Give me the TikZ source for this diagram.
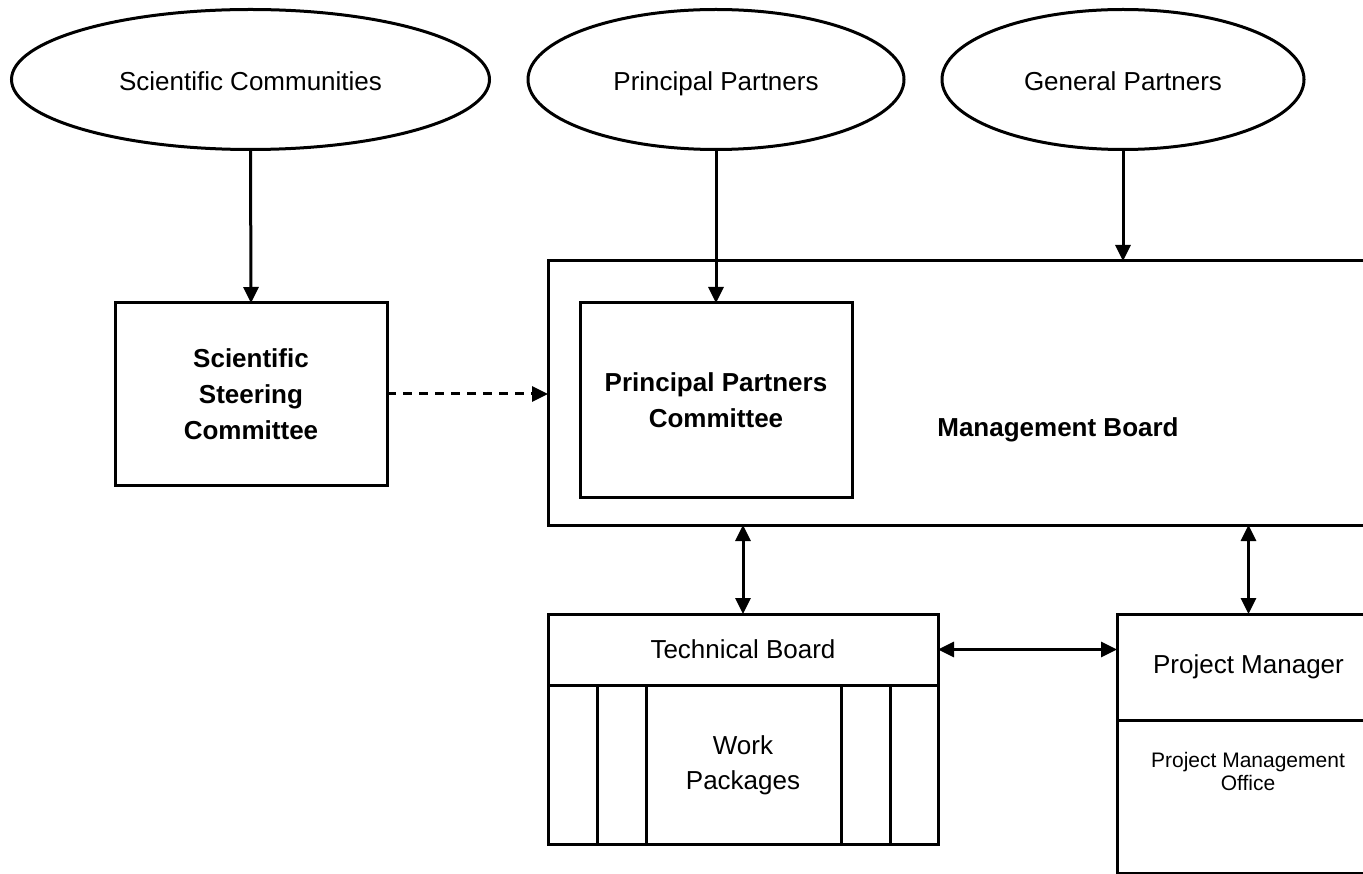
\documentclass[tikz,border=0pt]{standalone}
\usepackage{fontspec}
\setmainfont{Liberation Sans}
\usetikzlibrary{shapes.geometric,arrows.meta}
\begin{document}
\begin{tikzpicture}[x=1pt,y=-1pt,
  every node/.style={inner sep=0pt,outer sep=0pt},
  lw/.style={line width=3pt},
  oval/.style={ellipse,draw,lw,minimum height=140pt,text height=23pt,text depth=0pt,font=\fontsize{26}{36}\selectfont},
  boxx/.style={rectangle,draw,lw,align=center,font=\fontsize{26}{36}\selectfont\bfseries},
  plainbox/.style={rectangle,draw,lw,align=center,font=\fontsize{26}{35}\selectfont},
  lbl/.style={align=center,font=\fontsize{26}{35}\selectfont},
  arr/.style={lw,-{Triangle[length=16pt,width=15pt]}},
  darr/.style={lw,{Triangle[length=16pt,width=15pt]}-{Triangle[length=16pt,width=15pt]}},
  dasharr/.style={arr,dash pattern=on 9pt off 7pt}
]
\useasboundingbox (0,0) rectangle (1363,874);
\clip (0,0) rectangle (1363,874);
\fill[white] (0,0) rectangle (1363,874);

% ellipses
\node[oval,minimum width=478pt] (e1) at (250.5,79.5) {Scientific Communities};
\node[oval,minimum width=376pt] (e2) at (716,79.5) {Principal Partners};
\node[oval,minimum width=362pt] (e3) at (1123,79.5) {General Partners};

% boxes
\node[boxx,minimum width=272pt,minimum height=182pt] (ssc) at (251,394) {Scientific\\Steering\\Committee};
\node[rectangle,draw,lw,minimum width=832pt,minimum height=264pt] (mb) at (964,393) {};
\node[font=\fontsize{26}{36}\selectfont\bfseries] (mbl) at (1058,430) {Management Board};
\node[boxx,minimum width=272pt,minimum height=194pt] (ppc) at (716,400) {Principal Partners\\Committee};

% technical board
\node[plainbox,minimum width=390pt,minimum height=71pt] (tbh) at (743,649.5) {Technical Board};
\node[rectangle,draw,lw,minimum width=390pt,minimum height=159pt] (tbb) at (743,764.5) {};
\node[lbl] (wp) at (743,765) {Work\\Packages};
\foreach \xx [count=\i] in {597,646,841,890}{
  \coordinate (d\i t) at (\xx,685);
  \coordinate (d\i b) at (\xx,844);
  \draw[lw] (d\i t) -- (d\i b);
}

% project manager
\node[plainbox,minimum width=263pt,minimum height=106pt] (pmh) at (1248.5,667) {Project Manager};
\node[rectangle,draw,lw,minimum width=263pt,minimum height=153pt] (pmb) at (1248.5,796.5) {};
\node[align=center,font=\fontsize{21}{23}\selectfont] (pmo) at (1248,771) {Project Management\\Office};

% connectors
\draw[arr] (e1.south) -- (ssc.north);
\draw[arr] (e2.south) -- (ppc.north);
\draw[arr] (e3.south) -- (e3.south |- mb.north);
\draw[dasharr] (ssc.east) -- (ssc.east -| mb.west);
\draw[darr] (tbh.north) -- (tbh.north |- mb.south);
\draw[darr] (pmh.north) -- (pmh.north |- mb.south);
\draw[darr] (tbh.east) -- (tbh.east -| pmh.west);
\end{tikzpicture}
\end{document}
